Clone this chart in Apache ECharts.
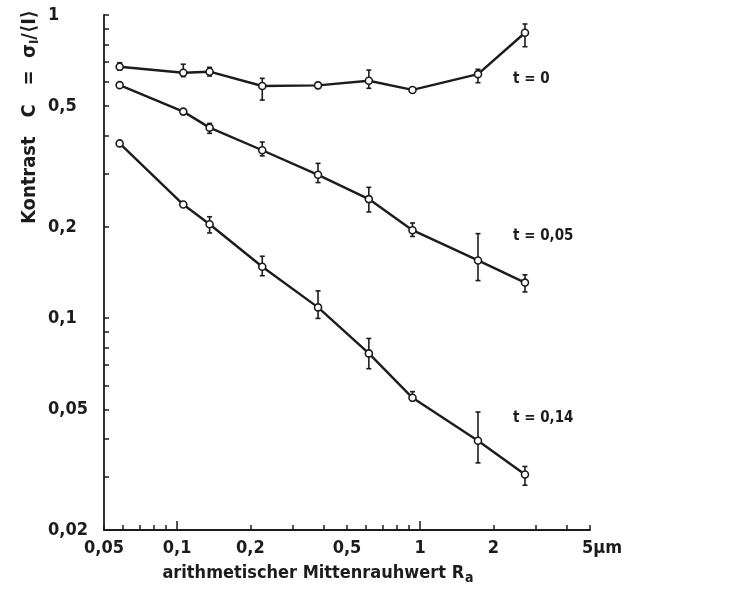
<!DOCTYPE html>
<html><head><meta charset="utf-8">
<script src="https://cdn.jsdelivr.net/npm/echarts@6/dist/echarts.min.js"></script>
<style>html,body{margin:0;padding:0;background:#fff}#c{width:751px;height:592px}</style>
</head><body><div id="c"></div>
<script>
// ---- data ----
const xValues = [0.058, 0.106, 0.136, 0.224, 0.38, 0.615, 0.93, 1.73, 2.7];
const seriesNames = ['t = 0', 't = 0,05', 't = 0,14'];
const c_t0   = [0.675, 0.645, 0.650, 0.583, 0.586, 0.607, 0.566, 0.638, 0.874];
const lo_t0  = [0.658, 0.626, 0.629, 0.524, 0.573, 0.573, null, 0.598, 0.786];
const hi_t0  = [0.696, 0.688, 0.672, 0.618, 0.598, 0.658, null, 0.662, 0.934];
const c_t005  = [0.587, 0.480, 0.425, 0.358, 0.297, 0.247, 0.195, 0.155, 0.131];
const lo_t005 = [null, null, 0.407, 0.343, 0.280, 0.224, 0.186, 0.133, 0.122];
const hi_t005 = [null, null, 0.439, 0.381, 0.324, 0.270, 0.206, 0.190, 0.139];
const c_t014  = [0.377, 0.237, 0.204, 0.1477, 0.1085, 0.0765, 0.0546, 0.0394, 0.0305];
const lo_t014 = [null, null, 0.191, 0.138, 0.0998, 0.0681, 0.0534, 0.0333, 0.0281];
const hi_t014 = [null, null, 0.216, 0.160, 0.123, 0.0857, 0.0572, 0.0490, 0.0324];

const xTickValues = [0.05, 0.1, 0.2, 0.5, 1, 2, 5];
const xTickLabels = ['0,05', '0,1', '0,2', '0,5', '1', '2', '5µm'];
const xMinorTicks = [0.05, 0.06, 0.07, 0.08, 0.09, 0.1, 0.2, 0.3, 0.4, 0.5, 0.6, 0.7, 0.8, 0.9, 1, 2, 3, 4, 5];
const xDecadeTicks = [0.1, 1];
const yTickValues = [0.02, 0.05, 0.1, 0.2, 0.5, 1];
const yTickLabels = ['0,02', '0,05', '0,1', '0,2', '0,5', '1'];
const yMinorTicks = [0.02, 0.03, 0.04, 0.05, 0.06, 0.07, 0.08, 0.09, 0.1, 0.2, 0.3, 0.4, 0.5, 0.6, 0.7, 0.8, 0.9, 1];

const xTitle = 'arithmetischer Mittenrauhwert R';
const xTitleSub = 'a';

// ---- chart ----
const INK = '#1c1c1c';
const FONT = '"DejaVu Sans Condensed", "DejaVu Sans", sans-serif';
function fmt(values, labels) {
  return function (v) {
    const i = values.findIndex(t => Math.abs(t - v) / t < 1e-6);
    if (i < 0) return '';
    return labels[i] === '5µm' ? '{u|' + labels[i] + '}' : labels[i];
  };
}
function lineSeries(name, ys) {
  return {
    name: name, type: 'line', xAxisIndex: 0, yAxisIndex: 0,
    data: xValues.map((x, i) => [x, ys[i]]),
    symbol: 'circle', symbolSize: 7, z: 3,
    itemStyle: { color: '#fff', borderColor: INK, borderWidth: 1.6 },
    lineStyle: { color: INK, width: 2.4 },
    emphasis: { disabled: true }
  };
}
function errorSeries(lo, hi) {
  const d = [];
  xValues.forEach((x, i) => { if (lo[i] != null) d.push([x, lo[i], hi[i]]); });
  return {
    type: 'custom', xAxisIndex: 0, yAxisIndex: 0, z: 2,
    encode: { x: 0, y: [1, 2] },
    data: d,
    renderItem: function (params, api) {
      const x = api.value(0);
      const a = api.coord([x, api.value(1)]);
      const b = api.coord([x, api.value(2)]);
      const w = 2.5;
      const st = { stroke: INK, lineWidth: 1.6 };
      return { type: 'group', children: [
        { type: 'line', shape: { x1: a[0], y1: a[1], x2: b[0], y2: b[1] }, style: st },
        { type: 'line', shape: { x1: a[0] - w, y1: a[1], x2: a[0] + w, y2: a[1] }, style: st },
        { type: 'line', shape: { x1: b[0] - w, y1: b[1], x2: b[0] + w, y2: b[1] }, style: st }
      ]};
    }
  };
}
const gridRect = { left: 104, right: 161, top: 15, bottom: 62 };
const chart = echarts.init(document.getElementById('c'), null, { renderer: 'canvas' });
chart.setOption({
  animation: false,
  backgroundColor: '#fff',
  textStyle: { fontFamily: FONT, color: INK },
  grid: [Object.assign({}, gridRect), Object.assign({}, gridRect)],
  xAxis: [{
    type: 'log', logBase: 10, min: 0.05, max: 5, gridIndex: 0,
    splitLine: { show: false },
    axisLine: { lineStyle: { color: INK, width: 1.8 } },
    axisTick: { inside: true, length: 5, customValues: xMinorTicks, lineStyle: { color: INK, width: 1.5 } },
    minorTick: { show: false },
    axisLabel: { customValues: xTickValues, formatter: fmt(xTickValues, xTickLabels), margin: 9,
      fontSize: 18, fontWeight: 'bold', color: INK, fontFamily: FONT,
      rich: { u: { fontSize: 18, fontWeight: 'bold', fontFamily: FONT, color: INK, padding: [0, 0, 0, 24] } } }
  }, {
    type: 'log', logBase: 10, min: 0.05, max: 5, gridIndex: 1,
    splitLine: { show: false }, axisLine: { show: false },
    axisTick: { inside: true, length: 9, customValues: xDecadeTicks, lineStyle: { color: INK, width: 1.5 } },
    axisLabel: { show: false }
  }],
  yAxis: [{
    type: 'log', logBase: 10, min: 0.02, max: 1, gridIndex: 0,
    splitLine: { show: false },
    axisLine: { lineStyle: { color: INK, width: 1.8 } },
    axisTick: { inside: true, length: 5, customValues: yMinorTicks, lineStyle: { color: INK, width: 1.5 } },
    minorTick: { show: false },
    axisLabel: { customValues: yTickValues, formatter: fmt(yTickValues, yTickLabels), align: 'left', margin: 56,
      fontSize: 18, fontWeight: 'bold', color: INK, fontFamily: FONT }
  }, {
    type: 'log', logBase: 10, min: 0.02, max: 1, gridIndex: 1, show: false
  }],
  series: [
    errorSeries(lo_t0, hi_t0), lineSeries(seriesNames[0], c_t0),
    errorSeries(lo_t005, hi_t005), lineSeries(seriesNames[1], c_t005),
    errorSeries(lo_t014, hi_t014), lineSeries(seriesNames[2], c_t014)
  ],
  graphic: [
    { type: 'text', left: 513, top: 72, style: { text: seriesNames[0], font: 'bold 15px ' + FONT, fill: INK } },
    { type: 'text', left: 513, top: 229, style: { text: seriesNames[1], font: 'bold 15px ' + FONT, fill: INK } },
    { type: 'text', left: 513, top: 411, style: { text: seriesNames[2], font: 'bold 15px ' + FONT, fill: INK } },
    { type: 'text', x: 318, y: 573, style: {
        text: '{m|' + xTitle + '}{s|' + xTitleSub + '}', align: 'center', verticalAlign: 'middle',
        rich: { m: { font: 'bold 18px ' + FONT, fill: INK }, s: { font: 'bold 14px ' + FONT, fill: INK, padding: [10, 0, 0, 1] } } } },
    { type: 'text', x: 30, y: 117, rotation: Math.PI / 2, style: {
        text: '{m|Kontrast   C   =  σ}{s|I}{m|/⟨I⟩}', align: 'center', verticalAlign: 'middle',
        rich: { m: { font: 'bold 20px ' + FONT, fill: INK }, s: { font: 'bold 13px ' + FONT, fill: INK, padding: [10, 0, 0, 0] } } } }
  ]
});
</script>
</body></html>
